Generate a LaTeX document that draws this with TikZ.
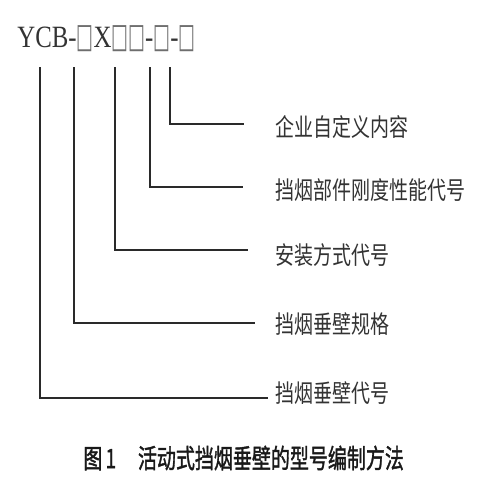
\documentclass[tikz,border=0pt]{standalone}
\usepackage{fontspec}
\setmainfont{Liberation Serif}
\newfontfamily\cjk{Noto Sans CJK SC}
\newfontfamily\cjkb[FakeBold=1.6]{Noto Sans CJK SC}
\newfontfamily\symf{DejaVu Sans}
\usepackage{graphicx}
\definecolor{ink}{HTML}{2A2A2A}
\definecolor{txt}{HTML}{333333}
\definecolor{boxc}{HTML}{6E6E6E}
\newcommand{\bx}{{\color{boxc}\symf\scalebox{0.72}[1.1]{□}}}
\begin{document}
\begin{tikzpicture}[x=0.5pt,y=-0.5pt,
  conn/.style={draw=ink,line width=1pt},
  lbl/.style={anchor=west,inner sep=0pt,text=txt,font=\cjk\fontsize{9.5pt}{9.5pt}\selectfont},
  hdr/.style={anchor=west,inner sep=0pt,text=txt,font=\fontsize{12.4pt}{12.4pt}\selectfont},
  captxt/.style={anchor=west,inner sep=0pt,text=black!90,font=\cjkb\fontsize{9.5pt}{9.5pt}\selectfont}]
\useasboundingbox[fill=white] (0,0) rectangle (500,500);
\node[hdr] (head) at (17,39) {\scalebox{1}[1.25]{YCB-\bx X\bx\bx-\bx-\bx}};
% start points under the code
\coordinate (t1) at (40,67);
\coordinate (t2) at (74,67);
\coordinate (t3) at (115,67);
\coordinate (t4) at (150,67);
\coordinate (t5) at (170,67);
% labels
\node[lbl] (l5) at (275,127) {\scalebox{1}[1.3]{企业自定义内容}};
\node[lbl] (l4) at (275,190) {\scalebox{1}[1.3]{挡烟部件刚度性能代号}};
\node[lbl] (l3) at (275,255) {\scalebox{1}[1.3]{安装方式代号}};
\node[lbl] (l2) at (275,324) {\scalebox{1}[1.3]{挡烟垂壁规格}};
\node[lbl] (l1) at (275,393) {\scalebox{1}[1.3]{挡烟垂壁代号}};
% line ends
\coordinate (e5) at (244,124);
\coordinate (e4) at (243,187);
\coordinate (e3) at (248,250);
\coordinate (e2) at (255,323);
\coordinate (e1) at (268,398);
\draw[conn] (t5) |- (e5);
\draw[conn] (t4) |- (e4);
\draw[conn] (t3) |- (e3);
\draw[conn] (t2) |- (e2);
\draw[conn] (t1) |- (e1);
\node[captxt] (caption) at (83,458) {\scalebox{1}[1.4]{图\,1\hspace{1.15em}活动式挡烟垂壁的型号编制方法}};
\end{tikzpicture}
\end{document}
